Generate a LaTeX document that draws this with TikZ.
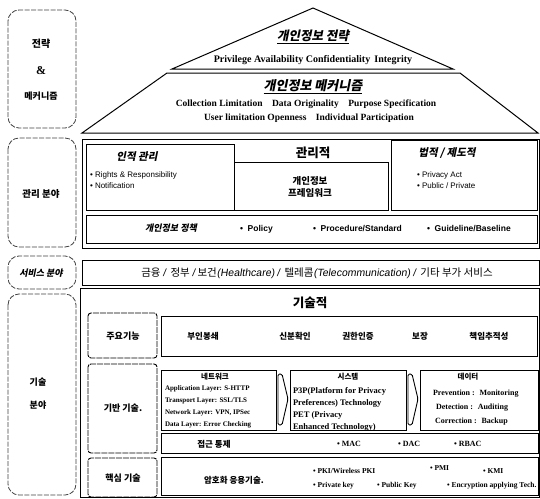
\documentclass[tikz,border=0pt]{standalone}
\usepackage{fontspec}
\setmainfont{Liberation Serif}
\newfontfamily\ar{Liberation Sans}
\newfontfamily\ars[FakeSlant=0.15]{Liberation Sans}
\newfontfamily\kr{Noto Sans CJK KR}
\newfontfamily\krs[FakeSlant=0.2]{Noto Sans CJK KR}
\newcommand\fs[1]{\fontsize{#1}{#1}\selectfont}
\begin{document}
\begin{tikzpicture}[x=1pt,y=-1pt,
  bl/.style={line width=1pt},
  lab/.style={line width=0.8pt, dash pattern=on 5pt off 1.5pt, rounded corners=11pt, black!75},
  sublab/.style={line width=0.9pt, dash pattern=on 6pt off 1pt, rounded corners=3pt},
  tx/.style={inner sep=0pt, outer sep=0pt},
  ko/.style={tx, font=\kr\bfseries\fs{#1}},
  kos/.style={tx, font=\krs\bfseries\fs{#1}},
  en/.style={tx, font=\bfseries\fs{#1}},
  sa/.style={tx, font=\ar\fs{#1}},
  sab/.style={tx, font=\ar\bfseries\fs{#1}},
  chev/.style={line width=0.9pt, rounded corners=1.5pt}
]
\useasboundingbox (0,0) rectangle (540,498);
% ---------- left labels
\draw[lab] (8,10) rectangle (76,128);
\node[ko=10] (s1) at (41,44) {전략};
\node[en=12] (s2) at (41,71) {\&};
\node[ko=9] (s3) at (41,96) {메커니즘};
\draw[lab] (8,138) rectangle (76,247);
\node[ko=9.5] (s4) at (41,194) {관리 분야};
\draw[lab] (8,256) rectangle (76,289);
\node[kos=9] (s5) at (41,273) {서비스 분야};
\draw[lab] (8,294) rectangle (76,495);
\node[ko=9] (s6) at (38,382) {기술};
\node[ko=9] (s7) at (38,405) {분야};
% ---------- pyramid
\draw[bl] (172,69) -- (313,8) -- (453,69) -- cycle;
\draw[bl] (167,73) -- (460,73) -- (538,133) -- (82,133) -- cycle;
\node[kos=12.5] (p1) at (313,37) {\underline{개인정보 전략}};
\node[en=10] (p2) at (313,60) {Privilege Availability Confidentiality\, Integrity};
\node[kos=13] (p3) at (313,87) {\underline{개인정보 메커니즘}};
\node[en=9.5] (p4) at (306,104) {Collection Limitation\quad Data Originality\quad Purpose Specification};
\node[en=9.5] (p5) at (309,118) {User limitation Openness\quad Individual Participation};
% ---------- management
\draw[bl] (82,139) rectangle (539,248);
\draw[bl] (86,144) rectangle (234,210);
\draw[bl] (234,162) rectangle (388,210);
\draw[bl] (391,140) rectangle (537,210);
\draw[bl] (86,215) rectangle (537,243);
\node[kos=10.5] (m1) at (137,157) {인적 관리};
\node[sa=8,anchor=west] (m2) at (90,175) {• Rights \& Responsibility};
\node[sa=8,anchor=west] (m3) at (90,186) {• Notification};
\node[ko=12.5] (m4) at (313,153) {관리적};
\node[tx,align=center,font=\kr\bfseries\fontsize{9.5}{11.5}\selectfont] (m5) at (310,187) {개인정보\\프레임워크};
\node[kos=10.5] (m6) at (447,153) {법적 / 제도적};
\node[sa=8,anchor=west] (m7) at (417,175) {• Privacy Act};
\node[sa=8,anchor=west] (m8) at (417,186) {• Public / Private};
\node[kos=9] (m9) at (171,228) {개인정보 정책};
\node[sab=8.5,anchor=west] (m10) at (240,229) {•\ \ Policy};
\node[sab=8.5,anchor=west] (m11) at (313,229) {•\ \ Procedure/Standard};
\node[sab=8.5,anchor=west] (m12) at (427,229) {•\ \ Guideline/Baseline};
% ---------- service
\draw[bl] (82,260) rectangle (539,285);
\node[tx,font=\kr\fs{10.5}] (sv) at (317,273) {금융 {\ars/}\ \ 정부 {\ars/} 보건{\ars(Healthcare)} {\ars/}\ \ 텔레콤{\ars(Telecommunication)} {\ars/}\ \ 기타 부가 서비스};
% ---------- technical
\draw[bl] (80,288) rectangle (539,497);
\node[ko=12.5] (t0) at (310,303) {기술적};
\draw[sublab] (88,313) rectangle (157,358);
\node[ko=9] (t1) at (123,336) {주요기능};
\draw[bl] (161,316) rectangle (537,356);
\node[ko=8.5] (f1) at (203,336) {부인봉쇄};
\node[ko=8.5] (f2) at (295,336) {신분확인};
\node[ko=8.5] (f3) at (358,336) {권한인증};
\node[ko=8.5] (f4) at (420,336) {보장};
\node[ko=8.5] (f5) at (489,336) {책임추적성};
\draw[sublab] (88,364) rectangle (157,453);
\node[ko=9] (t2) at (123,408) {기반 기술.};
\draw[bl] (161,370) rectangle (276,430);
\draw[bl] (290,370) rectangle (406,430);
\draw[bl] (420,370) rectangle (538,430);
\draw[chev] (278,374) -- (282,374) -- (288,399) -- (282,425) -- (278,425) -- cycle;
\draw[chev] (408,374) -- (412,374) -- (418,399) -- (412,425) -- (408,425) -- cycle;
\node[ko=7.5] (n0) at (215,377) {네트워크};
\node[en=7,anchor=west] (n1) at (165,389) {Application Layer: S-HTTP};
\node[en=7,anchor=west] (n2) at (165,401) {Transport Layer: SSL/TLS};
\node[en=7,anchor=west] (n3) at (165,413) {Network Layer: VPN, IPSec};
\node[en=7,anchor=west] (n4) at (165,425) {Data Layer: Error Checking};
\node[ko=7.5] (y0) at (348,377) {시스템};
\node[en=8.5,anchor=west] (y1) at (293,391) {P3P(Platform for Privacy};
\node[en=8.5,anchor=west] (y2) at (293,403) {Preferences) Technology};
\node[en=8.5,anchor=west] (y3) at (293,415) {PET (Privacy};
\node[en=8.5,anchor=west] (y4) at (293,427) {Enhanced Technology)};
\node[ko=7.5] (d0) at (468,377) {데이터};
\node[en=8,anchor=west] (d1) at (433,394) {Prevention : \ Monitoring};
\node[en=8,anchor=west] (d2) at (436,408) {Detection : \ Auditing};
\node[en=8,anchor=west] (d3) at (435,422) {Correction : \ Backup};
\draw[bl] (161,433) rectangle (538,453);
\node[ko=8.5] (a0) at (214,444) {접근 통제};
\node[en=8,anchor=west] (a1) at (337,444) {• MAC};
\node[en=8,anchor=west] (a2) at (398,444) {• DAC};
\node[en=8,anchor=west] (a3) at (454,444) {• RBAC};
\draw[sublab] (88,458) rectangle (157,497);
\node[ko=9] (t3) at (123,478) {핵심 기술};
\draw[bl] (161,457) rectangle (538,495);
\node[ko=8.5] (c0) at (234,480) {암호화 응용기술.};
\node[en=7.5,anchor=west] (c1) at (313,471) {• PKI/Wireless PKI};
\node[en=7.5,anchor=west] (c2) at (430,468) {• PMI};
\node[en=7.5,anchor=west] (c3) at (483,471) {• KMI};
\node[en=7.5,anchor=west] (c4) at (313,486) {• Private key};
\node[en=7.5,anchor=west] (c5) at (377,486) {• Public Key};
\node[en=7.5,anchor=west] (c6) at (447,486) {• Encryption applying Tech.};
\end{tikzpicture}
\end{document}
